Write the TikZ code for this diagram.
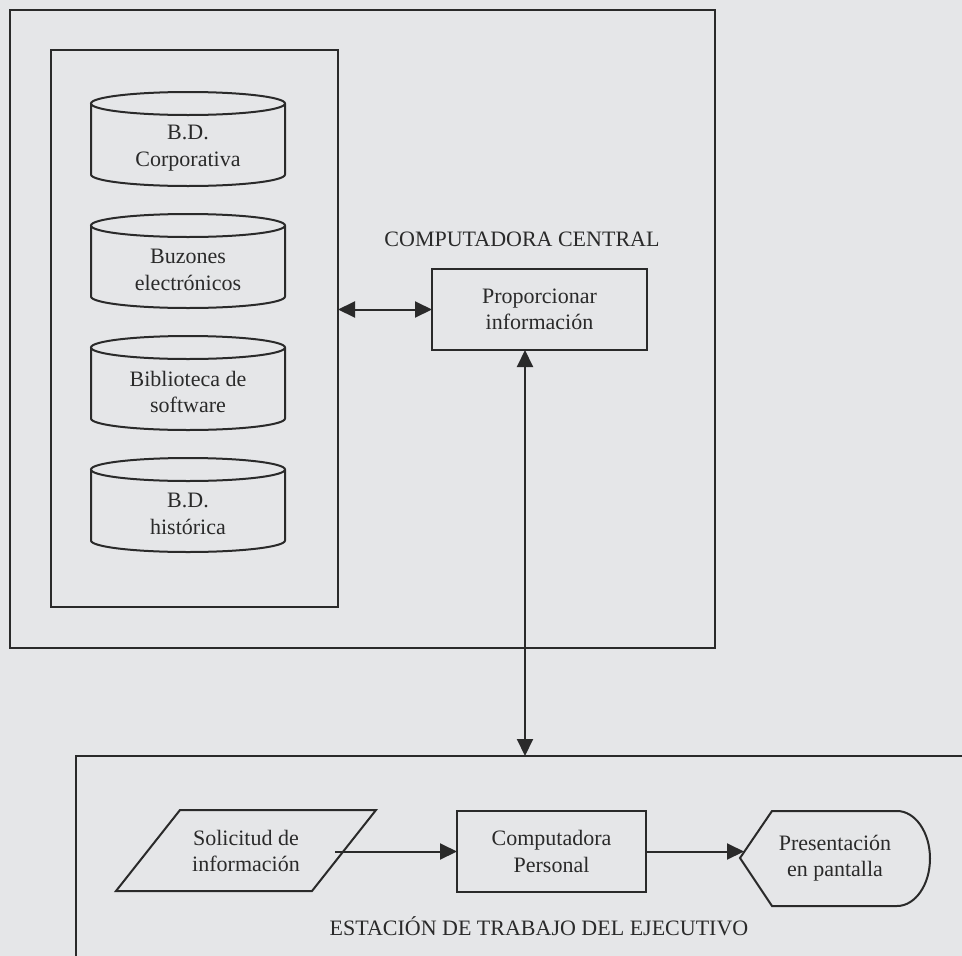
\documentclass[tikz,border=0pt]{standalone}
\usepackage{fontspec}
\setmainfont{Liberation Serif}
\usetikzlibrary{arrows.meta}
\definecolor{paper}{RGB}{229,230,232}
\definecolor{ink}{RGB}{42,42,42}

% database cylinder: #1 node name, #2 top edge (y), #3 label
\newcommand\dbcyl[3]{%
  \draw[line] (91,{#2+11.5}) -- (91,{#2+82.5})
    arc[start angle=180,end angle=360,x radius=97pt,y radius=11.5pt]
    -- (285,{#2+11.5});
  \draw[line] (188,{#2+11.5}) ellipse [x radius=97pt,y radius=11.5pt];
  \node[lbl] (#1) at (188,{#2+56}) {#3};
}

\begin{document}
\begin{tikzpicture}[x=1pt,y=-1pt,
  every node/.style={text=ink, font=\fontsize{22}{26.5}\selectfont},
  line/.style={draw=ink, line width=2pt},
  box/.style={line, rectangle, inner sep=0pt, outer sep=0pt, anchor=north west, align=center},
  lbl/.style={align=center, inner sep=0pt},
  link/.style={draw=ink, line width=2pt, -{Triangle[length=17pt,width=16pt]}},
  biglink/.style={draw=ink, line width=2pt,
    {Triangle[length=17pt,width=16pt]}-{Triangle[length=17pt,width=16pt]}},
]
\clip (0,0) rectangle (962,956);
\fill[paper] (0,0) rectangle (962,956);

% ---- central computer ----
\node[box, minimum width=705pt, minimum height=638pt] (central) at (10,10) {};
\node[box, minimum width=287pt, minimum height=557pt] (repo) at (51,50) {};

\dbcyl{corp}{92}{B.D.\\Corporativa}
\dbcyl{mail}{214}{Buzones\\electrónicos}
\dbcyl{soft}{336}{Biblioteca de\\software}
\dbcyl{hist}{458}{B.D.\\histórica}

\node[anchor=base, inner sep=0pt] (cctitle) at (522,246) {COMPUTADORA CENTRAL};
\node[box, minimum width=215pt, minimum height=81pt] (prop) at (432,269)
  {Proporcionar\\información};

% ---- executive workstation ----
\node[box, minimum width=960pt, minimum height=300pt] (ws) at (76,756) {};
\node[anchor=base, inner sep=0pt] (wstitle) at (539,935)
  {ESTACIÓN DE TRABAJO DEL EJECUTIVO};

\draw[line] (116,891) -- (180,810) -- (376,810) -- (312,891) -- cycle;
\node[lbl] (sol) at (246,851) {Solicitud de\\información};
\coordinate (solout) at (335,851);

\node[box, minimum width=189pt, minimum height=81pt] (pc) at (457,811)
  {Computadora\\Personal};

\draw[line] (740,858) -- (772,811) -- (897,811)
  arc[start angle=90,end angle=-90,x radius=33pt,y radius=47.5pt]
  -- (772,906) -- cycle;
\coordinate (presin) at (744,852);
\node[lbl] (pres) at (835,858) {Presentación\\en pantalla};

% ---- connectors ----
\coordinate (xv) at (525,0);
\draw[biglink] (repo.east |- prop.west) -- (prop.west);
\draw[biglink] (prop.south -| xv) -- (ws.north -| xv);
\draw[link] (pc.west -| solout) -- (pc.west);
\draw[link] (pc.east) -- (pc.east -| presin);
\end{tikzpicture}
\end{document}
